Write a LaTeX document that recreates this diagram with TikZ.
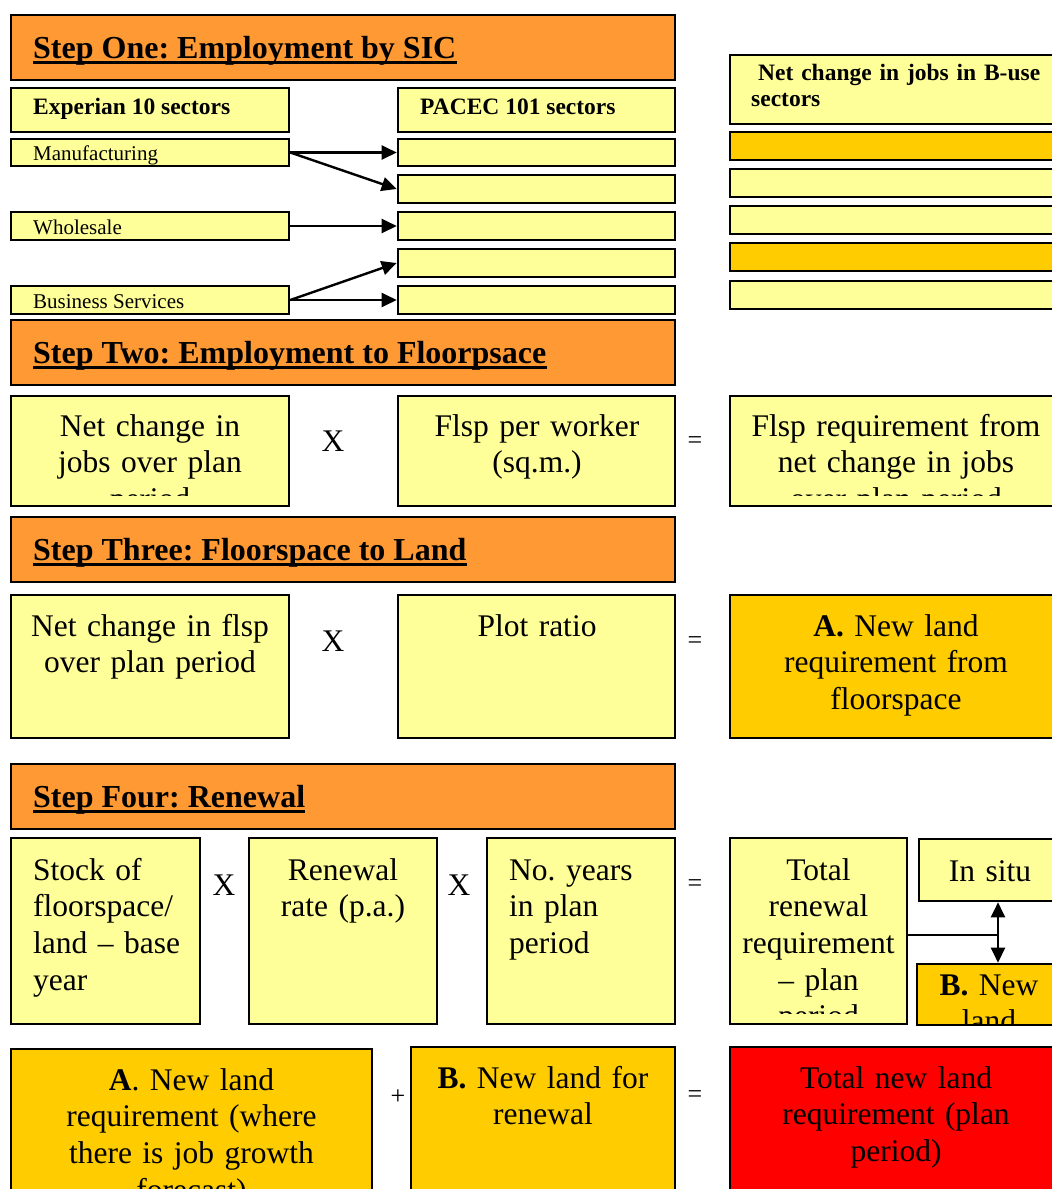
\documentclass[tikz,border=0pt]{standalone}
\usepackage{fontspec}
\setmainfont{Liberation Serif}
\usetikzlibrary{arrows.meta,fit}
\definecolor{yel}{HTML}{FFFF99}
\definecolor{org}{HTML}{FF9933}
\definecolor{gold}{HTML}{FFCC00}
\definecolor{hot}{HTML}{FF0000}
\frenchspacing
\newcommand\BigT{\fontsize{31.5}{36.7}\selectfont}
\newcommand\SmT{\fontsize{21}{25}\selectfont}
\newcommand\SmB{\fontsize{23.5}{26}\selectfont\bfseries}
\newcommand\HdT{\fontsize{32}{38}\selectfont\bfseries}
\newcommand\OpT{\fontsize{31.5}{36}\selectfont}
\newcommand\EqT{\fontsize{26}{30}\selectfont}
\begin{document}
\begin{tikzpicture}[x=1pt,y=-1pt,
  bx/.style={draw=black, line width=2.6pt, inner sep=0pt},
  bt/.style={font=\BigT, inner sep=0pt, align=center},
  st/.style={font=\SmT, inner sep=0pt},
  sb/.style={font=\SmB, inner sep=0pt},
  hd/.style={font=\HdT, inner sep=0pt},
  op/.style={font=\OpT, inner sep=0pt},
  eq/.style={font=\EqT, inner sep=0pt},
  ul/.style={line width=2.6pt},
  arr/.style={line width=2.4pt, -{Triangle[length=15pt,width=14pt]}},
  dbl/.style={line width=2.4pt, {Triangle[length=15pt,width=14pt]}-{Triangle[length=15pt,width=14pt]}},
  lnk/.style={line width=1.4pt}]
\clip (0,0) rectangle (1052,1189);
\fill[white] (0,0) rectangle (1052,1189);

% ---------- Step One ----------
\node[bx, fill=org, fit={(11,15)(675,80)}] (h1) {};
\node[bx, fill=yel, fit={(11,88)(289,132)}] (exp) {};
\node[bx, fill=yel, fit={(398,88)(675,132)}] (pac) {};
\node[bx, fill=yel, fit={(11,139)(289,166)}] (man) {};
\node[bx, fill=yel, fit={(11,212)(289,240)}] (who) {};
\node[bx, fill=yel, fit={(11,286)(289,314)}] (bus) {};
\node[bx, fill=yel, fit={(398,139)(675,166)}] (p1) {};
\node[bx, fill=yel, fit={(398,175)(675,203)}] (p2) {};
\node[bx, fill=yel, fit={(398,212)(675,240)}] (p3) {};
\node[bx, fill=yel, fit={(398,249)(675,277)}] (p4) {};
\node[bx, fill=yel, fit={(398,286)(675,314)}] (p5) {};
\node[bx, fill=yel, fit={(730,55)(1062,124)}] (nc) {};
\node[bx, fill=gold, fit={(730,132)(1062,160)}] (q1) {};
\node[bx, fill=yel, fit={(730,169)(1062,197)}] (q2) {};
\node[bx, fill=yel, fit={(730,206)(1062,234)}] (q3) {};
\node[bx, fill=gold, fit={(730,243)(1062,271)}] (q4) {};
\node[bx, fill=yel, fit={(730,281)(1062,309)}] (q5) {};

\node[hd, anchor=base west] (t1) at (33,58) {Step One: Employment by SIC};
\draw[ul] ([yshift=-4.5pt]t1.base west) -- ([yshift=-4.5pt]t1.base east);
\node[sb, anchor=base west] (texp) at (33,114) {Experian 10 sectors};
\node[sb, anchor=base west] (tpac) at (420,114) {PACEC 101 sectors};
\node[sb, anchor=base west, text width=300pt, align=left] (tnc) at (751,80) {\hspace*{7pt}Net change in jobs in B-use\\sectors};
\node[st, anchor=base west] (tman) at (33,160) {Manufacturing};
\node[st, anchor=base west] (twho) at (33,234) {Wholesale};
\node[st, anchor=base west] (tbus) at (33,308) {Business Services};

\draw[arr] (man.east) -- (p1.west);
\draw[arr] (man.east) -- (p2.west);
\draw[arr] (who.east) -- (p3.west);
\draw[arr] (bus.east) -- (p4.west);
\draw[arr] (bus.east) -- (p5.west);

% ---------- Step Two ----------
\node[bx, fill=org, fit={(11,320)(675,385)}] (h2) {};
\node[hd, anchor=base west] (t2) at (33,363) {Step Two: Employment to Floorpsace};
\draw[ul] ([yshift=-4.5pt]t2.base west) -- ([yshift=-4.5pt]t2.base east);
\node[bx, fill=yel, fit={(11,396)(289,506)}] (r2a) {};
\node[bx, fill=yel, fit={(398,396)(675,506)}] (r2b) {};
\node[bx, fill=yel, fit={(730,396)(1062,506)}] (r2c) {};
\begin{scope}
\clip (r2a.north west) rectangle ([yshift=12pt]r2a.south east);
\node[bt, text width=270pt, anchor=base] (t2a) at (150,436) {Net change in\\jobs over plan\\period};
\end{scope}
\node[bt, text width=270pt, anchor=base] (t2b) at (537,436) {Flsp per worker\\(sq.m.)};
\begin{scope}
\clip (r2c.north west) rectangle ([yshift=12pt]r2c.south east);
\node[bt, text width=320pt, anchor=base] (t2c) at (896,436) {Flsp requirement from\\net change in jobs\\over plan period};
\end{scope}
\node[op] (x1) at (333,441) {X};
\node[eq] (e1) at (695,443) {=};

% ---------- Step Three ----------
\node[bx, fill=org, fit={(11,517)(675,582)}] (h3) {};
\node[hd, anchor=base west] (t3) at (33,560) {Step Three: Floorspace to Land};
\draw[ul] ([yshift=-4.5pt]t3.base west) -- ([yshift=-4.5pt]t3.base east);
\node[bx, fill=yel, fit={(11,595)(289,738)}] (r3a) {};
\node[bx, fill=yel, fit={(398,595)(675,738)}] (r3b) {};
\node[bx, fill=gold, fit={(730,595)(1062,738)}] (r3c) {};
\node[bt, text width=270pt, anchor=base] (t3a) at (150,636) {Net change in flsp\\over plan period};
\node[bt, text width=270pt, anchor=base] (t3b) at (537,636) {Plot ratio};
\node[bt, text width=320pt, anchor=base] (t3c) at (896,636) {\textbf{A.} New land\\requirement from\\floorspace};
\node[op] (x2) at (333,641) {X};
\node[eq] (e2) at (695,643) {=};

% ---------- Step Four ----------
\node[bx, fill=org, fit={(11,764)(675,829)}] (h4) {};
\node[hd, anchor=base west] (t4) at (33,807) {Step Four: Renewal};
\draw[ul] ([yshift=-4.5pt]t4.base west) -- ([yshift=-4.5pt]t4.base east);
\node[bx, fill=yel, fit={(11,838)(200,1024)}] (r4a) {};
\node[bx, fill=yel, fit={(249,838)(437,1024)}] (r4b) {};
\node[bx, fill=yel, fit={(487,838)(675,1024)}] (r4c) {};
\node[bx, fill=yel, fit={(730,838)(907,1024)}] (r4d) {};
\node[bx, fill=yel, fit={(919,839)(1062,901)}] (insitu) {};
\node[bx, fill=gold, fit={(917,964)(1062,1025)}] (bnew) {};
\node[bt, text width=165pt, align=left, anchor=base west] (t4a) at (33,880) {Stock of\\floorspace/\\land – base\\year};
\node[bt, text width=180pt, anchor=base] (t4b) at (343,880) {Renewal\\rate (p.a.)};
\node[bt, text width=160pt, align=left, anchor=base west] (t4c) at (509,880) {No. years\\in plan\\period};
\begin{scope}
\clip (r4d.north west) rectangle ([yshift=12pt]r4d.south east);
\node[bt, text width=175pt, anchor=base] (t4d) at (818.5,880) {Total\\renewal\\requirement\\– plan\\period};
\end{scope}
\node[bt, text width=140pt, anchor=base] (t4e) at (990,881) {In situ};
\begin{scope}
\clip (bnew.north west) rectangle ([yshift=3pt]bnew.south east);
\node[bt, text width=140pt, anchor=base] (t4f) at (989,995) {\textbf{B.} New\\land};
\end{scope}
\node[op] (x3) at (224,885) {X};
\node[op] (x4) at (459,885) {X};
\node[eq] (e3) at (695,886) {=};
\coordinate (jn) at (998,935);
\draw[lnk] (r4d.east |- jn) -- (jn);
\draw[dbl] (insitu.south -| jn) -- (bnew.north -| jn);

% ---------- Totals ----------
\node[bx, fill=gold, fit={(11,1049)(372,1200)}] (r5a) {};
\node[bx, fill=gold, fit={(411,1047)(675,1200)}] (r5b) {};
\node[bx, fill=hot, fit={(730,1047)(1062,1200)}] (r5c) {};
\node[bt, text width=350pt, anchor=base] (t5a) at (191.5,1090) {\textbf{A}. New land\\requirement (where\\there is job growth\\forecast)};
\node[bt, text width=260pt, anchor=base] (t5b) at (543,1088) {\textbf{B.} New land for\\renewal};
\node[bt, text width=320pt, anchor=base] (t5c) at (896,1088) {Total new land\\requirement (plan\\period)};
\node[eq] (pl) at (398,1097) {+};
\node[eq] (e4) at (695,1097) {=};
\end{tikzpicture}
\end{document}
